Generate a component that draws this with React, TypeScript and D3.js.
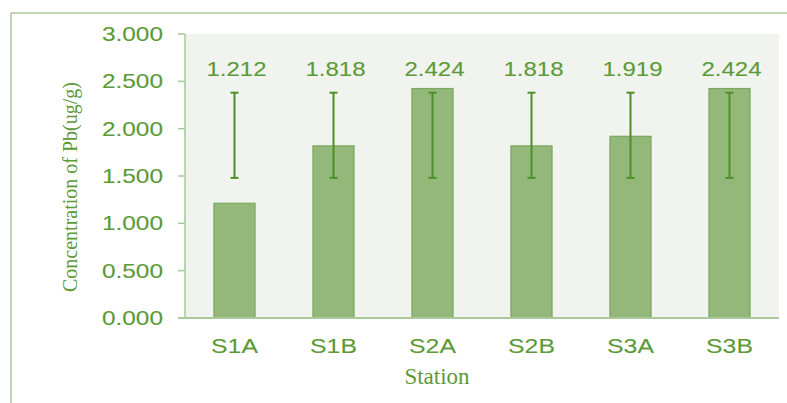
import * as d3 from "d3";

const stations = ["S1A", "S1B", "S2A", "S2B", "S3A", "S3B"];
const pbValues = [1.212, 1.818, 2.424, 1.818, 1.919, 2.424];
const errLow = [1.48, 1.48, 1.48, 1.48, 1.48, 1.48];
const errHigh = [2.38, 2.38, 2.38, 2.38, 2.38, 2.38];
const yTicks = [0, 0.5, 1, 1.5, 2, 2.5, 3];

const W = 787;
const H = 403;
const marginLeft = 185;
const marginRight = 8;
const marginTop = 34;
const plotBottom = 318;

const fontSans = "'Liberation Sans', Arial, sans-serif";
const fontSerif = "'Liberation Serif', 'Times New Roman', serif";
const textGreen = "#5b9a36";

export default function App() {
  const x = d3
    .scaleBand()
    .domain(stations)
    .range([marginLeft, W - marginRight])
    .paddingInner(0.585)
    .paddingOuter(0.2925);

  const y = d3.scaleLinear().domain([0, 3]).range([plotBottom, marginTop]);
  const fmt = d3.format(".3f");
  const bw = x.bandwidth();

  return (
    <svg
      width={W}
      height={H}
      style={{ position: "absolute", left: 0, top: 0, background: "#fff" }}
    >
      {/* outer frame */}
      <line x1={11} x2={W} y1={13} y2={13} stroke="#a9c99a" strokeWidth={1.5} />
      <line x1={11} x2={11} y1={13} y2={H} stroke="#a9c99a" strokeWidth={1.5} />

      {/* plot background */}
      <rect
        x={marginLeft}
        y={marginTop}
        width={W - marginRight - marginLeft}
        height={plotBottom - marginTop}
        fill="#f1f4ee"
      />

      {/* y axis */}
      <line x1={marginLeft} x2={marginLeft} y1={marginTop} y2={plotBottom} stroke="#a9c99a" strokeWidth={1.5} />
      {yTicks.map((t) => (
        <g key={t}>
          <line x1={178} x2={marginLeft} y1={y(t)} y2={y(t)} stroke="#a9c99a" strokeWidth={1.5} />
          <text
            transform={`translate(163,${y(t) + 7}) scale(1.22,1)`}
            textAnchor="end"
            fontFamily={fontSans}
            fontSize={20}
            fill={textGreen}
            stroke={textGreen}
            strokeWidth={0.1}
          >
            {fmt(t)}
          </text>
        </g>
      ))}

      {/* bars */}
      {stations.map((s, i) => (
        <rect
          key={s}
          x={x(s)!}
          y={y(pbValues[i])}
          width={bw}
          height={y(0) - y(pbValues[i])}
          fill="#93b87a"
          stroke="#7aa85e"
          strokeWidth={1.2}
        />
      ))}

      {/* x axis line */}
      <line x1={178} x2={W - marginRight} y1={plotBottom} y2={plotBottom} stroke="#a9c99a" strokeWidth={2} />

      {/* error bars */}
      {stations.map((s, i) => {
        const cx = x(s)! + bw / 2;
        return (
          <g key={s} stroke="#4f8f2a" strokeWidth={2}>
            <line x1={cx} x2={cx} y1={y(errHigh[i])} y2={y(errLow[i])} />
            <line x1={cx - 4} x2={cx + 4} y1={y(errHigh[i])} y2={y(errHigh[i])} />
            <line x1={cx - 4} x2={cx + 4} y1={y(errLow[i])} y2={y(errLow[i])} />
          </g>
        );
      })}

      {/* value labels */}
      {stations.map((s, i) => (
        <text
          key={s}
          transform={`translate(${x(s)! + bw / 2 + 2},76) scale(1.2,1)`}
          textAnchor="middle"
          fontFamily={fontSans}
          fontSize={20}
          fill={textGreen}
          stroke={textGreen}
          strokeWidth={0.1}
        >
          {fmt(pbValues[i])}
        </text>
      ))}

      {/* x tick labels */}
      {stations.map((s) => (
        <text
          key={s}
          transform={`translate(${x(s)! + bw / 2},353) scale(1.18,1)`}
          textAnchor="middle"
          fontFamily={fontSans}
          fontSize={21}
          fill={textGreen}
          stroke={textGreen}
          strokeWidth={0.1}
        >
          {s}
        </text>
      ))}

      {/* axis titles */}
      <text
        x={437}
        y={384}
        textAnchor="middle"
        fontFamily={fontSerif}
        fontSize={23}
        fill={textGreen}
      >
        Station
      </text>
      <text
        transform={`translate(77,187) rotate(-90)`}
        textAnchor="middle"
        fontFamily={fontSerif}
        fontSize={20}
        fill={textGreen}
      >
        Concentration of Pb(ug/g)
      </text>
    </svg>
  );
}
